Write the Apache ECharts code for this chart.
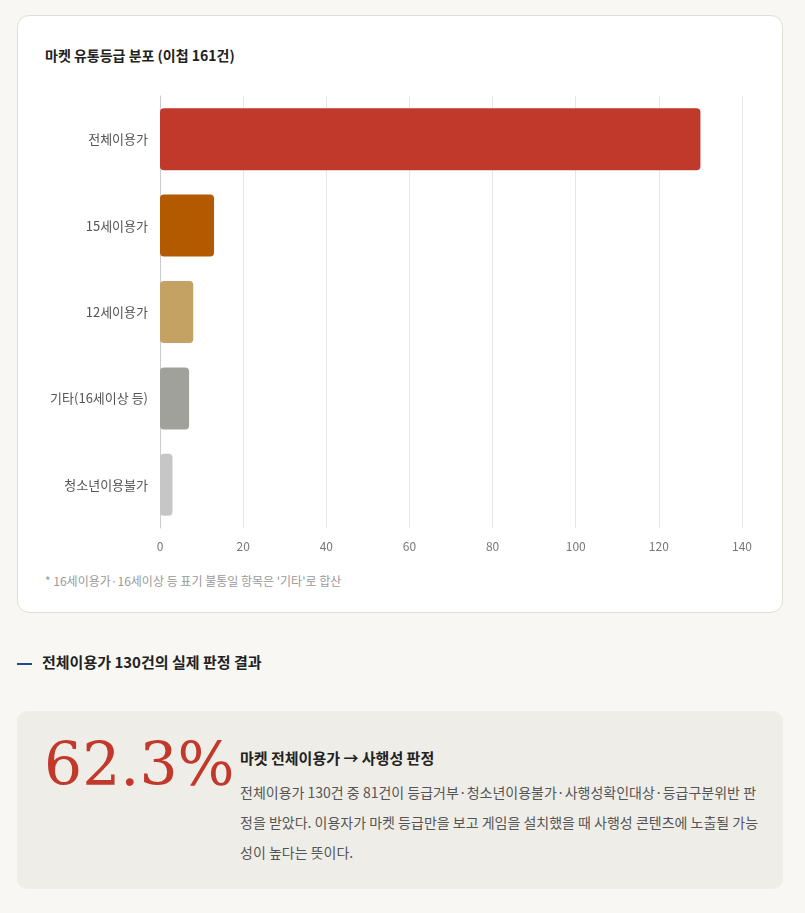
<!DOCTYPE html>
<html><head><meta charset="utf-8">
<script src="https://cdn.jsdelivr.net/npm/echarts@6/dist/echarts.min.js"></script>
<style>
body{margin:0;background:#f9f7f3;font-family:"Noto Sans CJK KR","Noto Sans",sans-serif;width:805px;height:913px;position:relative;overflow:hidden}
.card{position:absolute;left:17px;top:15px;width:764px;height:596px;background:#fff;border:1px solid #e2ded6;border-radius:12px}
.title{position:absolute;left:45px;top:45px;font-size:14px;font-weight:700;color:#222}
#chart{position:absolute;left:17px;top:80px;width:765px;height:490px}
.note{position:absolute;left:45px;top:572px;font-size:12px;color:#999}
.sec{position:absolute;left:17px;top:651px;font-size:15px;font-weight:700;color:#222}
.sec span{display:inline-block;width:15px;height:2px;background:#1f4e8c;vertical-align:middle;margin-right:10px}
.box{position:absolute;left:17px;top:711px;width:766px;height:178px;background:#efede8;border-radius:10px}
.big{position:absolute;left:27px;top:18px;font-family:"DejaVu Serif","Liberation Serif",serif;font-size:60px;color:#c0392b}
.bt{position:absolute;left:223px;top:36px;font-size:15px;font-weight:700;color:#222}
.bd{position:absolute;left:223px;top:66px;width:520px;font-size:14px;color:#555;line-height:30px}
</style></head><body>
<div class="card"></div>
<div class="title">마켓 유통등급 분포 (이첩 161건)</div>
<div id="chart"></div>
<div class="note">* 16세이용가·16세이상 등 표기 불통일 항목은 '기타'로 합산</div>
<div class="sec"><span></span>전체이용가 130건의 실제 판정 결과</div>
<div class="box"><div class="big">62.3%</div><div class="bt">마켓 전체이용가 → 사행성 판정</div>
<div class="bd">전체이용가 130건 중 81건이 등급거부·청소년이용불가·사행성확인대상·등급구분위반 판정을 받았다. 이용자가 마켓 등급만을 보고 게임을 설치했을 때 사행성 콘텐츠에 노출될 가능성이 높다는 뜻이다.</div></div>
<script>
const categories=["전체이용가","15세이용가","12세이용가","기타(16세이상 등)","청소년이용불가"];
const values=[130,13,8,7,3];
const colors=["#c0392b","#b35a00","#c4a263","#a1a19c","#c6c6c6"];
const c=echarts.init(document.getElementById('chart'));
c.setOption({
 textStyle:{fontFamily:"Noto Sans CJK KR"},
 grid:{left:143,right:40,top:16,bottom:42},
 xAxis:{type:'value',min:0,max:140,interval:20,axisLine:{show:false},axisTick:{show:false},
  axisLabel:{color:'#777',fontSize:12,margin:12},splitLine:{lineStyle:{color:'#e6e6e6'}}},
 yAxis:{type:'category',inverse:true,data:categories,axisTick:{show:false},
  axisLine:{lineStyle:{color:'#ccc'}},axisLabel:{color:'#555',fontSize:13,margin:12}},
 series:[{type:'bar',barWidth:62,data:values.map((v,i)=>({value:v,itemStyle:{color:colors[i],borderRadius:4}}))}]
});
</script></body></html>
